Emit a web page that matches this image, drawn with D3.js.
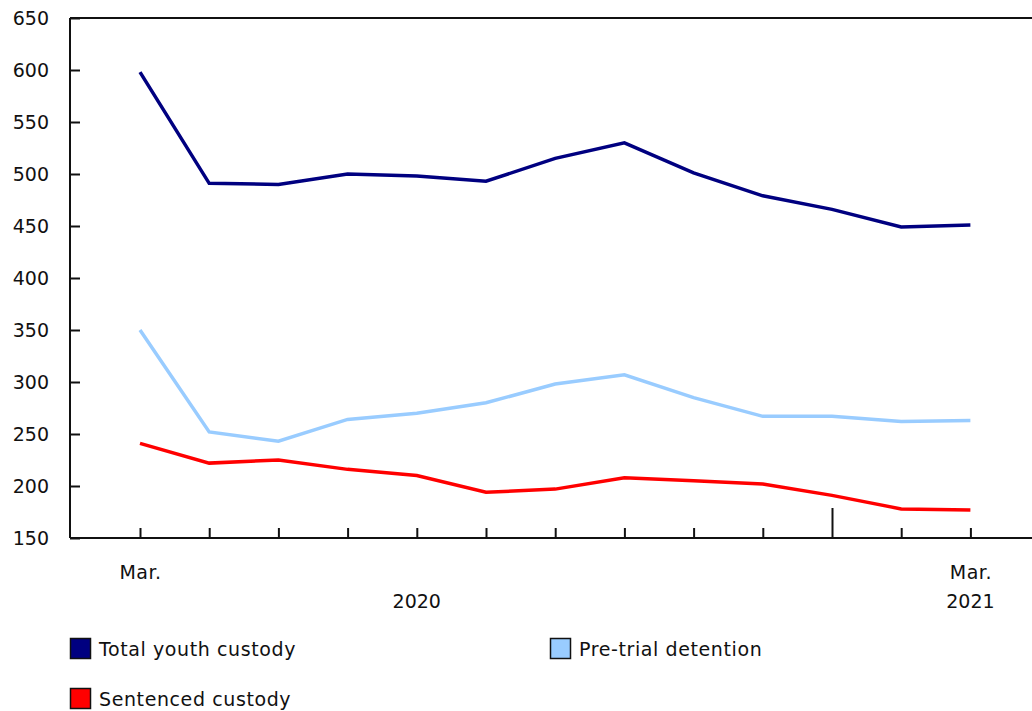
<!DOCTYPE html>
<html><head><meta charset="utf-8">
<script src="https://cdn.jsdelivr.net/npm/d3@7"></script>
<style>
body{margin:0;background:#fff;}
text{font-family:"DejaVu Sans",Verdana,sans-serif;fill:#111;}
</style></head>
<body><svg id="c" width="1032" height="711"></svg>
<script>
const months = ["2020-03","2020-04","2020-05","2020-06","2020-07","2020-08","2020-09","2020-10","2020-11","2020-12","2021-01","2021-02","2021-03"];
const monthLabels = ["Mar.","","","","","","","","","","","","Mar."];
const yearLabels = [{m:"2020-07", t:"2020"},{m:"2021-03", t:"2021"}];
const totalYouth = [598,491,490,500,498,493,515,530,501,479,466,449,451];
const preTrial = [350,252,243,264,270,280,298,307,285,267,267,262,263];
const sentenced = [241,222,225,216,210,194,197,208,205,202,191,178,177];
const yTicks = [150,200,250,300,350,400,450,500,550,600,650];
const seriesNames = ["Total youth custody","Pre-trial detention","Sentenced custody"];
const seriesColors = ["#000080","#99ccff","#ff0000"];

(function(){
const svg = d3.select("#c");
const mLeft = 70, mRight = 1032, mTop = 18, mBottom = 538;
const x = d3.scalePoint().domain(months).range([140, 970.4]);
const y = d3.scaleLinear().domain([150,650]).range([mBottom, mTop]);
const fs = "19px";

svg.append("line").attr("x1",mLeft).attr("x2",mRight).attr("y1",mTop).attr("y2",mTop)
  .attr("stroke","#111").attr("stroke-width",2);

const ya = svg.append("g").attr("transform",`translate(${mLeft},0)`)
  .call(d3.axisRight(y).tickValues(yTicks).tickSize(10).tickFormat(d3.format("d")));
ya.select(".domain").remove();
ya.append("line").attr("x1",0).attr("x2",0).attr("y1",mTop).attr("y2",mBottom).attr("stroke","#111").attr("stroke-width",2);
ya.selectAll(".tick line").attr("stroke","#111").attr("stroke-width",2);
ya.selectAll(".tick text").attr("x",-21).attr("text-anchor","end").attr("dy","0.35em")
  .style("font-size",fs).attr("fill","#111");

const xa = svg.append("g").attr("transform",`translate(0,${mBottom})`)
  .call(d3.axisBottom(x).tickSize(0).tickFormat((d,i)=>monthLabels[i]));
xa.select(".domain").remove();
xa.append("line").attr("x1",mLeft).attr("x2",mRight).attr("y1",0).attr("y2",0).attr("stroke","#111").attr("stroke-width",2);
xa.selectAll(".tick").append("line").attr("y1",0)
  .attr("y2",d=>d==="2021-01"?-30:-10).attr("stroke","#111").attr("stroke-width",2);
xa.selectAll(".tick text").attr("y",34).attr("dy","0.35em").style("font-size",fs)
  .style("letter-spacing","0.5px").attr("fill","#111");
svg.selectAll(".year").data(yearLabels).join("text").attr("class","year")
  .attr("x",d=>x(d.m)).attr("y",601).attr("dy","0.35em").attr("text-anchor","middle")
  .style("font-size",fs).text(d=>d.t);

const allSeries = [totalYouth, preTrial, sentenced];
const line = d3.line().x((d,i)=>x(months[i])).y(d=>y(d));
[2,1,0].forEach(k=>{
  svg.append("path").datum(allSeries[k]).attr("d",line).attr("fill","none")
    .attr("stroke",seriesColors[k]).attr("stroke-width",3.5).attr("stroke-linejoin","miter");
});

const legPos = [{x:70,y:638},{x:550,y:638},{x:70,y:688}];
seriesNames.forEach((n,k)=>{
  const g = svg.append("g").attr("transform",`translate(${legPos[k].x},${legPos[k].y})`);
  g.append("rect").attr("x",0.5).attr("y",0.5).attr("width",20).attr("height",20)
    .attr("fill",seriesColors[k]).attr("stroke","#111").attr("stroke-width",1.5);
  g.append("text").attr("x",29).attr("y",11).attr("dy","0.35em").style("font-size",fs)
    .style("letter-spacing","0.6px").text(n);
});
})();
</script></body></html>
